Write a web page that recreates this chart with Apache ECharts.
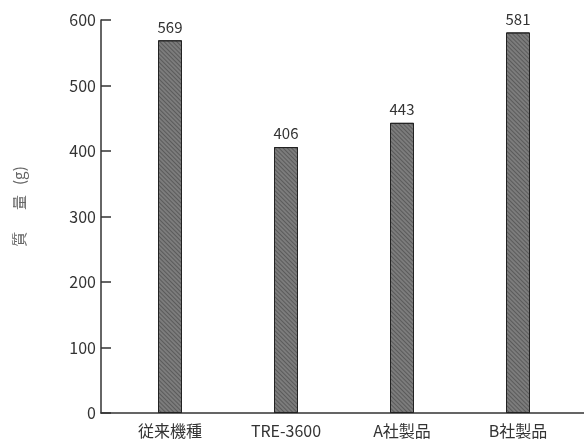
<!DOCTYPE html>
<html>
<head>
<meta charset="utf-8">
<script src="https://cdn.jsdelivr.net/npm/echarts@6/dist/echarts.min.js"></script>
<style>html,body{margin:0;padding:0;background:#fff}#c{width:584px;height:439px}</style>
</head>
<body>
<div id="c"></div>
<script>
var categories = ['従来機種', 'TRE-3600', 'A社製品', 'B社製品'];
var values = [569, 406, 443, 581];
var yTicks = [0, 100, 200, 300, 400, 500, 600];
var yName = '質\u3000  量   (g)';

var font = '"Noto Sans CJK JP", "Noto Sans", sans-serif';
var chart = echarts.init(document.getElementById('c'));
chart.setOption({
  animation: false,
  backgroundColor: '#fff',
  grid: [
    {left: 101, right: 0, top: 20, bottom: 26},
    {left: 112, right: 8, top: 20, bottom: 26}
  ],
  xAxis: [
    {gridIndex: 0, type: 'value', min: 0, max: 1,
     axisLine: {show: true, lineStyle: {color: '#333', width: 1.5}},
     axisTick: {show: false}, axisLabel: {show: false}, splitLine: {show: false}},
    {gridIndex: 1, type: 'category', data: categories,
     axisLine: {show: false}, axisTick: {show: false},
     axisLabel: {margin: 10, fontSize: 16, color: '#333', fontFamily: font}}
  ],
  yAxis: [
    {gridIndex: 0, type: 'value', min: yTicks[0], max: yTicks[yTicks.length - 1], interval: 100,
     name: yName, nameLocation: 'middle', nameRotate: 90, nameGap: 74,
     nameTextStyle: {fontSize: 15, color: '#666', fontFamily: font, padding: [0, 0, 0, 20]},
     axisLine: {show: true, lineStyle: {color: '#333', width: 1.5}},
     axisTick: {show: true, inside: true, length: 10, lineStyle: {color: '#333', width: 1.5}},
     axisLabel: {margin: 5, fontSize: 16, color: '#333', fontFamily: font},
     splitLine: {show: false}},
    {gridIndex: 1, type: 'value', min: yTicks[0], max: yTicks[yTicks.length - 1], show: false}
  ],
  series: [{
    type: 'bar', xAxisIndex: 1, yAxisIndex: 1,
    data: values, barWidth: 24,
    itemStyle: {
      color: '#7c7c7c', borderColor: '#222', borderWidth: 1,
      decal: {symbol: 'rect', color: 'rgba(40,40,40,0.4)', dashArrayX: [1, 0], dashArrayY: [1, 2], rotation: Math.PI / 4, symbolSize: 1}
    },
    label: {show: true, position: 'top', distance: 6, fontSize: 15, color: '#333', fontFamily: font}
  }]
});
</script>
</body>
</html>
